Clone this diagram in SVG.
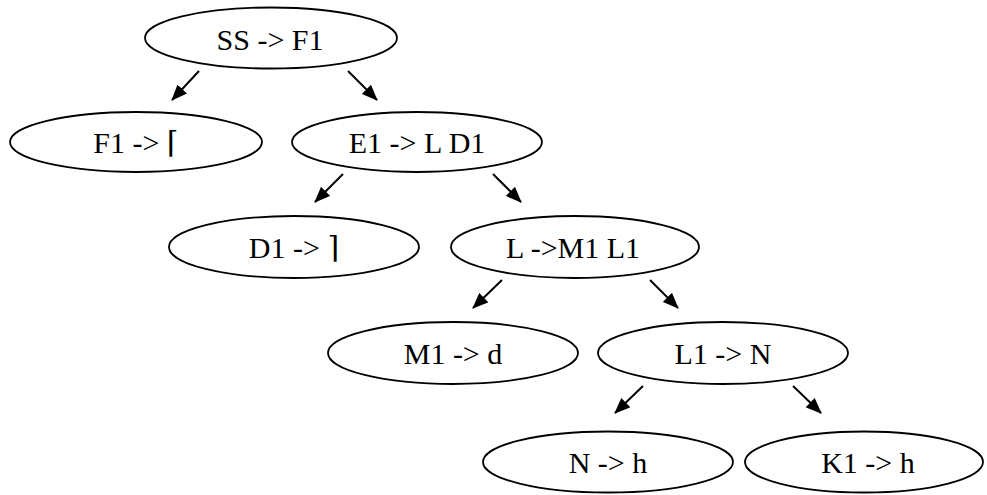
<svg xmlns="http://www.w3.org/2000/svg" width="987" height="495" viewBox="0 0 987 495">
<style>
  .node ellipse { fill: #ffffff; stroke: #000000; stroke-width: 1.8; }
  .node text { font-family: "Liberation Serif", "Times New Roman", serif; font-size: 30px; fill: #000000; text-anchor: middle; }
  .sym { font-family: "DejaVu Serif", "Liberation Serif", serif; font-weight: normal; }
  .edge { stroke: #000000; stroke-width: 2; fill: none; marker-end: url(#arrow); }
</style>
<defs>
  <marker id="arrow" viewBox="0 0 16 13" refX="15" refY="6.5" markerWidth="16" markerHeight="13" markerUnits="userSpaceOnUse" orient="auto">
    <path d="M0,0 L16,6.5 L0,13 Z" fill="#000000"/>
  </marker>
</defs>
<rect width="987" height="495" fill="#ffffff"/>
<g id="connectors">
  <line class="edge" x1="199" y1="71" x2="172" y2="100"/>
  <line class="edge" x1="348" y1="71" x2="377" y2="100"/>
  <line class="edge" x1="343" y1="174" x2="315" y2="202"/>
  <line class="edge" x1="493" y1="174" x2="521" y2="202"/>
  <line class="edge" x1="502" y1="280" x2="473" y2="308"/>
  <line class="edge" x1="650" y1="280" x2="678" y2="308"/>
  <line class="edge" x1="643" y1="386" x2="615" y2="413"/>
  <line class="edge" x1="793" y1="386" x2="821" y2="413"/>
</g>
<g id="n_ss" class="node"><ellipse cx="271" cy="38" rx="126" ry="30.5"/><text x="270" y="50">SS -&gt; F1</text></g>
<g id="n_f1" class="node"><ellipse cx="136" cy="142" rx="126" ry="30"/><text x="136" y="153">F1 -&gt; <tspan class="sym">⌈</tspan></text></g>
<g id="n_e1" class="node"><ellipse cx="417" cy="142" rx="125" ry="30"/><text x="417" y="153">E1 -&gt; L D1</text></g>
<g id="n_d1" class="node"><ellipse cx="294" cy="247" rx="125" ry="31"/><text x="294" y="258">D1 -&gt; <tspan class="sym">⌉</tspan></text></g>
<g id="n_l" class="node"><ellipse cx="575" cy="247" rx="124" ry="31"/><text x="573" y="258">L -&gt;M1 L1</text></g>
<g id="n_m1" class="node"><ellipse cx="453" cy="353" rx="125" ry="31"/><text x="453" y="364">M1 -&gt; d</text></g>
<g id="n_l1" class="node"><ellipse cx="723" cy="353" rx="125" ry="31"/><text x="723" y="364">L1 -&gt; N</text></g>
<g id="n_n" class="node"><ellipse cx="608" cy="462" rx="125" ry="30.5"/><text x="608" y="473">N -&gt; h</text></g>
<g id="n_k1" class="node"><ellipse cx="864" cy="462" rx="119" ry="30.5"/><text x="868" y="473">K1 -&gt; h</text></g>
</svg>
